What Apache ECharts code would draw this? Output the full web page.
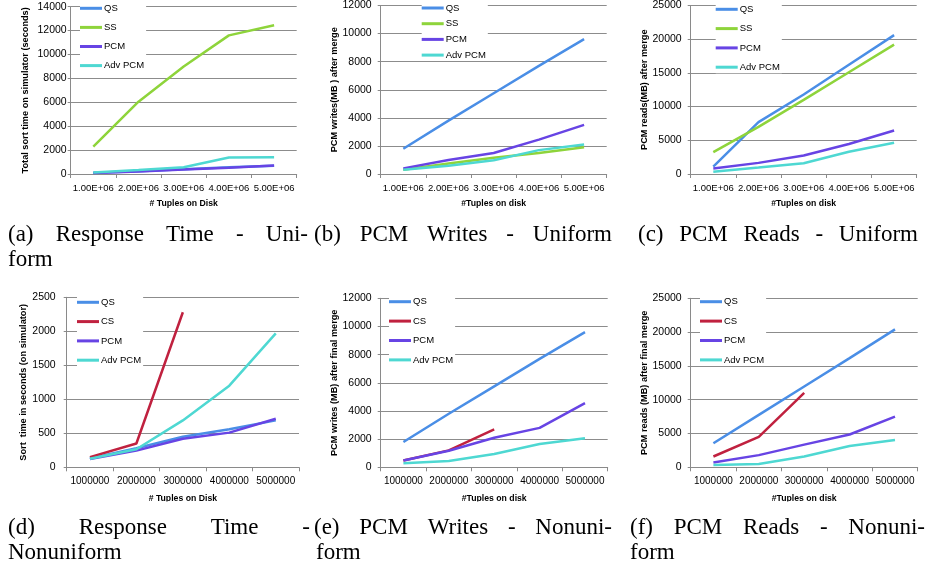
<!DOCTYPE html>
<html><head><meta charset="utf-8">
<script src="https://cdn.jsdelivr.net/npm/echarts@6/dist/echarts.min.js"></script>
<style>html,body{margin:0;padding:0;background:#fff}#c{width:929px;height:573px}</style>
</head><body><div id="c"></div><script>
// ---------- data ----------
const catsTop = ['1.00E+06', '2.00E+06', '3.00E+06', '4.00E+06', '5.00E+06'];
const catsBottom = ['1000000', '2000000', '3000000', '4000000', '5000000'];

// (a) Response Time - Uniform
const aQS = [100, 230, 400, 560, 700];
const aSS = [2300, 6050, 9000, 11600, 12450];
const aPCM = [90, 200, 380, 530, 720];
const aAdvPCM = [130, 330, 570, 1380, 1400];

// (b) PCM Writes - Uniform
const bQS = [1800, 3800, 5750, 7700, 9600];
const bSS = [300, 750, 1150, 1500, 1900];
const bPCM = [400, 1000, 1500, 2450, 3500];
const bAdvPCM = [300, 580, 980, 1700, 2100];

// (c) PCM Reads - Uniform
const cQS = [1100, 7700, 11800, 16200, 20600];
const cSS = [3250, 7000, 11000, 15100, 19200];
const cPCM = [800, 1650, 2750, 4450, 6450];
const cAdvPCM = [350, 950, 1600, 3300, 4650];

// (d) Response Time - Nonuniform
const dQS = [130, 280, 450, 560, 690];
const dCS = [150, 350, 2280];
const dPCM = [120, 245, 420, 510, 715];
const dAdvPCM = [125, 265, 690, 1200, 1970];

// (e) PCM Writes - Nonuniform
const eQS = [1800, 3800, 5750, 7700, 9600];
const eCS = [480, 1200, 2700];
const ePCM = [480, 1180, 2100, 2800, 4550];
const eAdvPCM = [290, 450, 950, 1660, 2070];

// (f) PCM Reads - Nonuniform
const fQS = [3550, 7750, 11950, 16150, 20400];
const fCS = [1600, 4500, 11000];
const fPCM = [700, 1800, 3350, 4850, 7500];
const fAdvPCM = [350, 500, 1600, 3150, 4050];

const colors = { 'QS': '#4A8EE6', 'SS': '#8ED43B', 'PCM': '#6744E4', 'Adv PCM': '#4ED8D2', 'CS': '#C0213F' };

// ---------- layout ----------
const panels = [
  { grid: { left: 70.7, top: 6.7, width: 226, height: 167.3 }, cats: catsTop, xFont: 9.5, max: 14000, interval: 2000,
    yName: 'Total sort time on simulator (seconds)', xName: '# Tuples on Disk', yGap: 40.7, yMargin: 4, xGap: 25.5,
    series: [['QS', aQS], ['SS', aSS], ['PCM', aPCM], ['Adv PCM', aAdvPCM]], leg: { left: 80, top: 2.3, gap: 7.1 } },
  { grid: { left: 380.7, top: 5, width: 226, height: 169 }, cats: catsTop, xFont: 9.5, max: 12000, interval: 2000,
    yName: 'PCM writes(MB ) after merge', xName: '#Tuples on disk', yGap: 40.7, yMargin: 9, xGap: 25.5,
    series: [['QS', bQS], ['SS', bSS], ['PCM', bPCM], ['Adv PCM', bAdvPCM]], leg: { left: 421.7, top: 2, gap: 3.7 } },
  { grid: { left: 690.7, top: 5, width: 226, height: 169 }, cats: catsTop, xFont: 9.5, max: 25000, interval: 5000,
    yName: 'PCM reads(MB) after merge', xName: '#Tuples on disk', yGap: 40.7, yMargin: 9, xGap: 25.5,
    series: [['QS', cQS], ['SS', cSS], ['PCM', cPCM], ['Adv PCM', cAdvPCM]], leg: { left: 715.7, top: 3.3, gap: 7.3 } },
  { grid: { left: 66.7, top: 297.3, width: 232.3, height: 170 }, cats: catsBottom, xFont: 10, max: 2500, interval: 500,
    yName: 'Sort  time in seconds (on simulator)', xName: '# Tuples on Disk', yGap: 36.7, yMargin: 11, xGap: 26.7,
    series: [['QS', dQS], ['CS', dCS], ['PCM', dPCM], ['Adv PCM', dAdvPCM]], leg: { left: 77, top: 296.3, gap: 7.3 } },
  { grid: { left: 380.7, top: 298.3, width: 227, height: 169 }, cats: catsBottom, xFont: 10, max: 12000, interval: 2000,
    yName: 'PCM writes (MB) after final merge', xName: '#Tuples on disk', yGap: 40.7, yMargin: 9, xGap: 26.7,
    series: [['QS', eQS], ['CS', eCS], ['PCM', ePCM], ['Adv PCM', eAdvPCM]], leg: { left: 389, top: 295.7, gap: 7.4 } },
  { grid: { left: 690.7, top: 298.3, width: 227, height: 169 }, cats: catsBottom, xFont: 10, max: 25000, interval: 5000,
    yName: 'PCM reads (MB) after final merge', xName: '#Tuples on disk', yGap: 40.7, yMargin: 9, xGap: 26.7,
    series: [['QS', fQS], ['CS', fCS], ['PCM', fPCM], ['Adv PCM', fAdvPCM]], leg: { left: 700, top: 295.7, gap: 7.4 } }
];

const SANS = '"Liberation Sans", Arial, sans-serif';
const axisGray = '#8a8a8a';

const option = { animation: false, grid: [], xAxis: [], yAxis: [], series: [], legend: [], graphic: [] };

panels.forEach((p, i) => {
  option.grid.push(Object.assign({ containLabel: false }, p.grid));
  option.xAxis.push({
    type: 'category', gridIndex: i, data: p.cats, boundaryGap: true,
    name: p.xName, nameLocation: 'middle', nameGap: p.xGap,
    nameTextStyle: { fontFamily: SANS, fontSize: 8.7, fontWeight: 'bold', color: '#000' },
    axisLine: { lineStyle: { color: axisGray, width: 1 } },
    axisTick: { show: true, length: 4, lineStyle: { color: axisGray } },
    axisLabel: { interval: 0, margin: 9, fontFamily: SANS, fontSize: p.xFont, color: '#000' },
    splitLine: { show: false }
  });
  option.yAxis.push({
    type: 'value', gridIndex: i, min: 0, max: p.max, interval: p.interval,
    name: p.yName, nameLocation: 'middle', nameGap: p.yGap,
    nameTextStyle: { fontFamily: SANS, fontSize: 9.2, fontWeight: 'bold', color: '#000' },
    axisLine: { show: true, lineStyle: { color: axisGray, width: 1 } },
    axisTick: { show: true, length: 3, lineStyle: { color: axisGray } },
    axisLabel: { margin: p.yMargin, fontFamily: SANS, fontSize: 10.5, color: '#000', formatter: v => String(v) },
    splitLine: { show: true, lineStyle: { color: '#8c8c8c', width: 1 } }
  });
  p.series.forEach(([name, vals]) => {
    option.series.push({
      type: 'line', name: name, xAxisIndex: i, yAxisIndex: i, data: vals,
      symbol: 'none', showSymbol: false, smooth: false,
      lineStyle: { color: colors[name], width: 2.5 }, itemStyle: { color: colors[name] }
    });
  });
  option.legend.push({
    orient: 'vertical', left: p.leg.left, top: p.leg.top, padding: [0, 2, 0, 0], itemGap: p.leg.gap,
    backgroundColor: '#fff', selectedMode: false, icon: 'rect', itemWidth: 22, itemHeight: 3,
    data: p.series.map(s => s[0]),
    textStyle: { fontFamily: SANS, fontSize: 9.5, color: '#000', lineHeight: 12, padding: [0, 0, 0, -3] }
  });
});

// ---------- captions ----------
const CAP_SIZE = 23;
const CAP_FONT = CAP_SIZE + 'px "Liberation Serif", "Times New Roman", serif';
const mctx = document.createElement('canvas').getContext('2d');
mctx.font = CAP_FONT;
function capLine(words, x0, x1, y, justify) {
  const widths = words.map(w => mctx.measureText(w).width);
  const total = widths.reduce((a, b) => a + b, 0);
  const gap = (justify && words.length > 1) ? (x1 - x0 - total) / (words.length - 1) : mctx.measureText(' ').width;
  let x = x0;
  words.forEach((w, k) => {
    option.graphic.push({ type: 'text', x: x, y: y, z: 101,
      style: { text: w, font: CAP_FONT, fill: '#000', align: 'left', verticalAlign: 'middle' } });
    x += widths[k] + gap;
  });
}
// mask the clipped lower part of the bottom row (axis titles cut by the caption area)
option.graphic.push({ type: 'rect', z: 100, shape: { x: 0, y: 501.5, width: 929, height: 72 }, style: { fill: '#fff' } });

capLine(['(a)', 'Response', 'Time', '-', 'Uni-'], 8, 308, 235, true);
capLine(['form'], 8, 60, 260, false);
capLine(['(b)', 'PCM', 'Writes', '-', 'Uniform'], 314, 612, 235, true);
capLine(['(c)', 'PCM', 'Reads', '-', 'Uniform'], 638, 918, 235, true);

capLine(['(d)', 'Response', 'Time', '-'], 8, 310, 528, true);
capLine(['Nonuniform'], 8, 130, 553, false);
capLine(['(e)', 'PCM', 'Writes', '-', 'Nonuni-'], 314, 612, 528, true);
capLine(['form'], 316, 370, 553, false);
capLine(['(f)', 'PCM', 'Reads', '-', 'Nonuni-'], 630, 925, 528, true);
capLine(['form'], 630, 690, 553, false);

const chart = echarts.init(document.getElementById('c'), null, { renderer: 'canvas' });
chart.setOption(option);
</script></body></html>
